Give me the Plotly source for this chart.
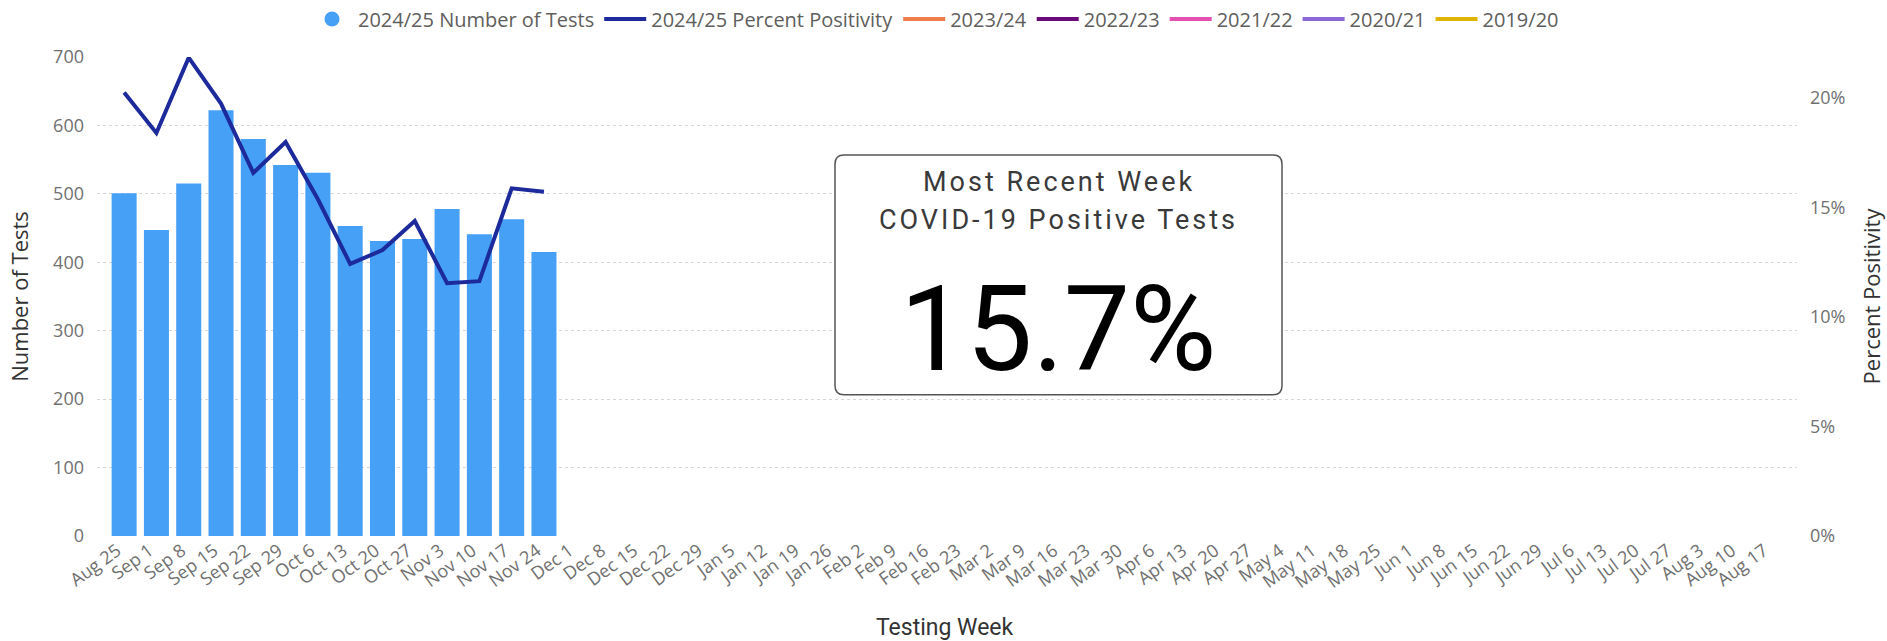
import plotly.graph_objects as go

weeks = ["Aug 25", "Sep 1", "Sep 8", "Sep 15", "Sep 22", "Sep 29", "Oct 6", "Oct 13", "Oct 20", "Oct 27",
         "Nov 3", "Nov 10", "Nov 17", "Nov 24", "Dec 1", "Dec 8", "Dec 15", "Dec 22", "Dec 29",
         "Jan 5", "Jan 12", "Jan 19", "Jan 26", "Feb 2", "Feb 9", "Feb 16", "Feb 23",
         "Mar 2", "Mar 9", "Mar 16", "Mar 23", "Mar 30", "Apr 6", "Apr 13", "Apr 20", "Apr 27",
         "May 4", "May 11", "May 18", "May 25", "Jun 1", "Jun 8", "Jun 15", "Jun 22", "Jun 29",
         "Jul 6", "Jul 13", "Jul 20", "Jul 27", "Aug 3", "Aug 10", "Aug 17"]

tests_2425 = [501, 447, 515, 622, 580, 542, 531, 453, 431, 434, 478, 441, 463, 415]
positivity_2425 = [0.2026, 0.1841, 0.2185, 0.1975, 0.1659, 0.1800, 0.1538, 0.1243, 0.1306, 0.1439,
                   0.1155, 0.1164, 0.1588, 0.1572]

other_seasons = ["2023/24", "2022/23", "2021/22", "2020/21", "2019/20"]
other_colors = ["#F07B4B", "#6B0A7A", "#E54FB0", "#8A68D9", "#DDB400"]

left_ticks = [0, 100, 200, 300, 400, 500, 600, 700]
right_ticks = [0, 0.05, 0.10, 0.15, 0.20]

BAR_COLOR = "#46A0F5"
LINE_COLOR = "#1C2A9B"
TICK_COLOR = "#707070"
TITLE_COLOR = "#333333"

W, H = 1887, 641
# target plot area in screenshot pixels
P_LEFT, P_RIGHT, P_TOP, P_BOTTOM = 97, 1797, 57, 536.5
ML = P_LEFT
MR = W - P_RIGHT
MT = P_TOP
MB = H - P_BOTTOM
PW = P_RIGHT - P_LEFT
PH = P_BOTTOM - P_TOP

def px_x(px):
    return (px - P_LEFT) / PW

def px_y(py):
    return (P_BOTTOM - py) / PH

fig = go.Figure()

fig.add_trace(go.Bar(
    x=weeks[:len(tests_2425)], y=tests_2425, marker_color=BAR_COLOR,
    marker_line_width=0, name="2024/25 Number of Tests", showlegend=False,
))
# legend proxy for the bar series (circle symbol, as in reference)
fig.add_trace(go.Scatter(
    x=[None], y=[None], mode="markers", name="2024/25 Number of Tests",
    marker=dict(symbol="circle", size=15, color=BAR_COLOR),
))
fig.add_trace(go.Scatter(
    x=weeks[:len(positivity_2425)], y=positivity_2425, mode="lines",
    line=dict(color=LINE_COLOR, width=4), name="2024/25 Percent Positivity", yaxis="y2",
))
for name, col in zip(other_seasons, other_colors):
    fig.add_trace(go.Scatter(x=[None], y=[None], mode="lines", name=name,
                             line=dict(color=col, width=4), yaxis="y2"))

font_main = "Open Sans, Noto Sans, sans-serif"
font_din = "Roboto, DejaVu Sans Condensed, sans-serif"

fig.update_layout(
    width=W, height=H,
    margin=dict(l=ML, r=MR, t=MT, b=MB, autoexpand=False),
    paper_bgcolor="white", plot_bgcolor="white",
    bargap=0.225,
    font=dict(family=font_main, color=TICK_COLOR),
    showlegend=True,
    legend=dict(orientation="h", x=px_x(935), xanchor="center", y=px_y(19), yanchor="middle",
                font=dict(size=20, color="#605E5C", family=font_main),
                itemwidth=42, tracegroupgap=0, bgcolor="rgba(0,0,0,0)"),
    xaxis=dict(type="category", categoryorder="array", categoryarray=weeks,
               range=[-0.84, len(weeks) - 0.2], tickangle=-36,
               tickfont=dict(size=18, color=TICK_COLOR), showgrid=False, zeroline=False,
               showline=False, ticks="", tickmode="array", tickvals=weeks, ticktext=weeks,
               ticklabelshift=-7),
    yaxis=dict(range=[0, 700], tickvals=left_ticks, tickfont=dict(size=18, color=TICK_COLOR),
               showgrid=True, gridcolor="#D6D6D6", griddash="dot", gridwidth=1,
               zeroline=False, showline=False, ticks="", ticklabelstandoff=12,
               title=dict(text="Number of Tests", font=dict(size=22, color=TITLE_COLOR), standoff=18)),
    yaxis2=dict(range=[0, 0.2188], tickvals=right_ticks, tickformat=".0%", overlaying="y", side="right",
                tickfont=dict(size=18, color=TICK_COLOR), showgrid=False, zeroline=False,
                showline=False, ticks="", ticklabelstandoff=12,
                title=dict(text="Percent Positivity", font=dict(size=22, color=TITLE_COLOR), standoff=20)),
)

# x-axis title placed as annotation (axis titles are clamped inside margins)
fig.add_annotation(x=px_x(945), y=px_y(628), xref="paper", yref="paper", text="Testing Week",
                   xanchor="center", yanchor="middle", showarrow=False,
                   font=dict(size=23, color=TITLE_COLOR, family=font_din))

# card box with rounded corners
x0, x1 = px_x(835), px_x(1282)
y0, y1 = px_y(395), px_y(155)
rx, ry = 9 / PW, 9 / PH
path = (f"M {x0+rx},{y0} L {x1-rx},{y0} Q {x1},{y0} {x1},{y0+ry} L {x1},{y1-ry} "
        f"Q {x1},{y1} {x1-rx},{y1} L {x0+rx},{y1} Q {x0},{y1} {x0},{y1-ry} L {x0},{y0+ry} "
        f"Q {x0},{y0} {x0+rx},{y0} Z")
fig.add_shape(type="path", path=path, xref="paper", yref="paper",
              line=dict(color="#555555", width=1.5), fillcolor="white", layer="above")

cx = px_x(1058.5)
spaced = '<span style="letter-spacing:3px">{}</span>'
fig.add_annotation(x=cx, y=px_y(182), xref="paper", yref="paper",
                   text=spaced.format("Most Recent Week"),
                   xanchor="center", yanchor="middle",
                   showarrow=False, font=dict(size=27, color="#3A3A3A", family=font_din))
fig.add_annotation(x=cx, y=px_y(220), xref="paper", yref="paper",
                   text=spaced.format("COVID-19 Positive Tests"),
                   xanchor="center", yanchor="middle",
                   showarrow=False, font=dict(size=27, color="#3A3A3A", family=font_din))
fig.add_annotation(x=cx, y=px_y(330), xref="paper", yref="paper",
                   text=f"{positivity_2425[-1]*100:.1f}%", xanchor="center", yanchor="middle",
                   showarrow=False, font=dict(size=118, color="#000000", family=font_din))

# remove the default 8px page margin so the figure fills the window exactly
fig.write_html("out.html", config={"displayModeBar": False},
               post_script="document.body.style.margin='0';document.body.style.overflow='hidden';")
